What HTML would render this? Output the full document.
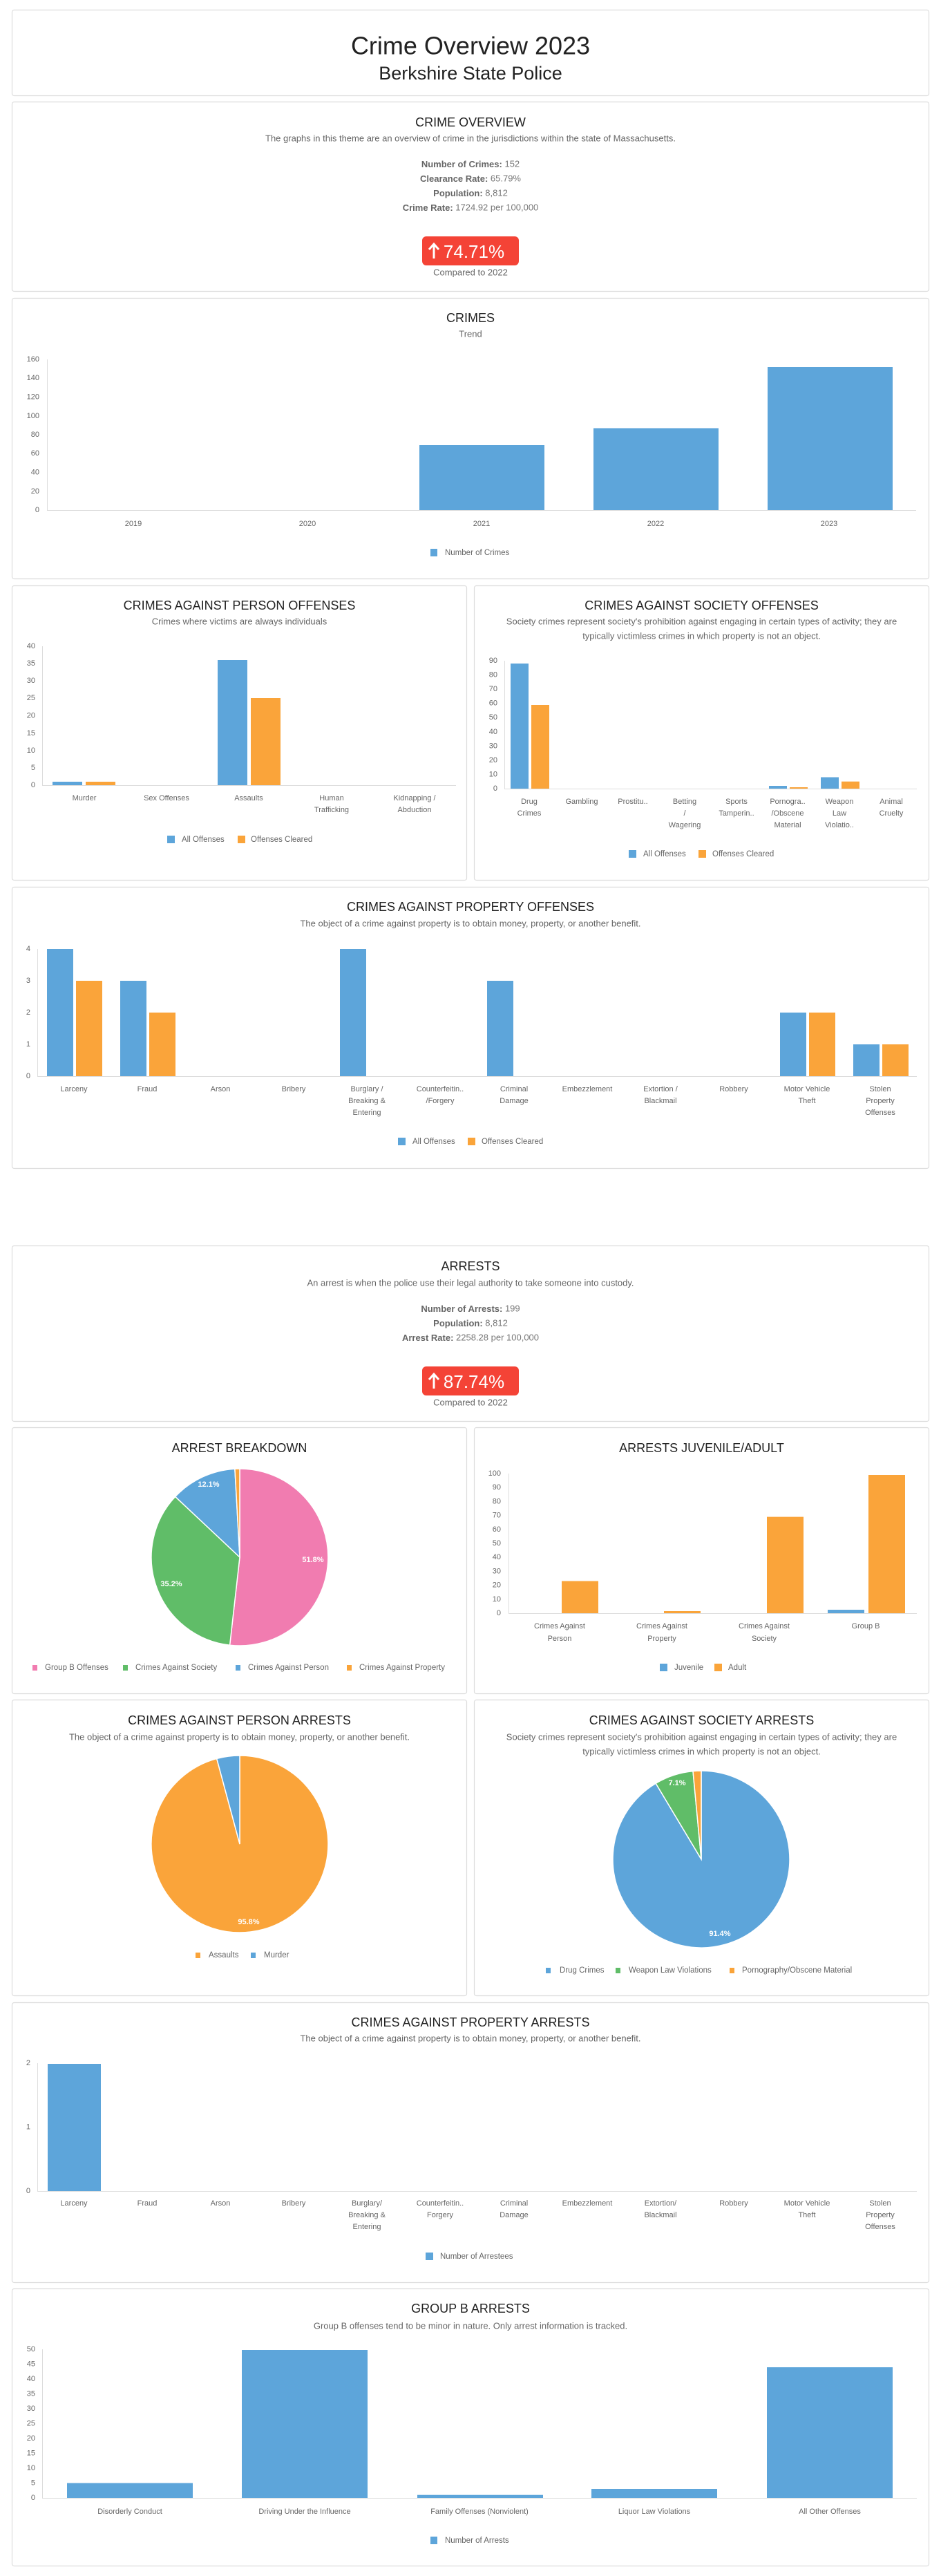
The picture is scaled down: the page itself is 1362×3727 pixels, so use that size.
<!DOCTYPE html>
<html><head><meta charset="utf-8"><style>
html,body{margin:0;padding:0;background:#fff;}
svg{display:block;font-family:"Liberation Sans",Arial,sans-serif;}
.card{fill:#fff;stroke:#dcdcdc;stroke-width:1.2;}
.t{fill:#222;font-size:18px;text-anchor:middle;dominant-baseline:central;}
.d{fill:#666;font-size:13px;text-anchor:middle;dominant-baseline:central;}
.s{fill:#777;font-size:13px;text-anchor:middle;dominant-baseline:central;}
.s tspan.b{font-weight:bold;fill:#666;}
.yl{fill:#666;font-size:11px;text-anchor:end;dominant-baseline:central;}
.xl{fill:#666;font-size:11px;text-anchor:middle;dominant-baseline:central;}
.lg{fill:#666;font-size:11.5px;dominant-baseline:central;}
.ax{stroke:#ddd;stroke-width:1;fill:none;}
.bl{fill:#5DA5DA;}
.or{fill:#FAA43A;}
.pk{fill:#F17CB0;}
.gr{fill:#60BD68;}
.pl{fill:#fff;font-size:11px;font-weight:bold;text-anchor:middle;dominant-baseline:central;}
</style></head><body>
<svg width="1362" height="3727" viewBox="0 0 1362 3727" xmlns="http://www.w3.org/2000/svg">
<!-- cards -->
<rect class="card" x="17.5" y="14.5" width="1327" height="124" rx="3"/>
<rect class="card" x="17.5" y="147.5" width="1327" height="274" rx="3"/>
<rect class="card" x="17.5" y="431.5" width="1327" height="406" rx="3"/>
<rect class="card" x="17.5" y="847.5" width="658" height="426" rx="3"/>
<rect class="card" x="686.5" y="847.5" width="658" height="426" rx="3"/>
<rect class="card" x="17.5" y="1283.5" width="1327" height="407" rx="3"/>
<rect class="card" x="17.5" y="1802.5" width="1327" height="254" rx="3"/>
<rect class="card" x="17.5" y="2065.5" width="658" height="385" rx="3"/>
<rect class="card" x="686.5" y="2065.5" width="658" height="385" rx="3"/>
<rect class="card" x="17.5" y="2459.5" width="658" height="428" rx="3"/>
<rect class="card" x="686.5" y="2459.5" width="658" height="428" rx="3"/>
<rect class="card" x="17.5" y="2897.5" width="1327" height="405" rx="3"/>
<rect class="card" x="17.5" y="3311.5" width="1327" height="401" rx="3"/>

<!-- header -->
<text x="681" y="66" text-anchor="middle" dominant-baseline="central" font-size="36" fill="#222">Crime Overview 2023</text>
<text x="681" y="106" text-anchor="middle" dominant-baseline="central" font-size="27" fill="#222">Berkshire State Police</text>

<!-- crime overview -->
<text class="t" x="681" y="177">CRIME OVERVIEW</text>
<text class="d" x="681" y="200">The graphs in this theme are an overview of crime in the jurisdictions within the state of Massachusetts.</text>
<text class="s" x="681" y="237"><tspan class="b">Number of Crimes:</tspan> 152</text>
<text class="s" x="681" y="258"><tspan class="b">Clearance Rate:</tspan> 65.79%</text>
<text class="s" x="681" y="279"><tspan class="b">Population:</tspan> 8,812</text>
<text class="s" x="681" y="300"><tspan class="b">Crime Rate:</tspan> 1724.92 per 100,000</text>
<rect x="611" y="342" width="140" height="42" rx="6" fill="#F44336"/>
<text x="686" y="364" text-anchor="middle" dominant-baseline="central" font-size="26" fill="#fff">74.71%</text>
<path d="M628 374 V354 M621 361 L628 353 L635 361" stroke="#fff" stroke-width="3" fill="none"/>
<text class="d" x="681" y="394">Compared to 2022</text>

<!-- CRIMES trend -->
<text class="t" x="681" y="460">CRIMES</text>
<text class="d" x="681" y="483">Trend</text>
<g>
<text class="yl" x="57" y="520">160</text><text class="yl" x="57" y="547">140</text><text class="yl" x="57" y="574.5">120</text><text class="yl" x="57" y="602">100</text><text class="yl" x="57" y="629">80</text><text class="yl" x="57" y="656">60</text><text class="yl" x="57" y="683.5">40</text><text class="yl" x="57" y="711">20</text><text class="yl" x="57" y="738">0</text>
<path class="ax" d="M68.5 520 V738.5 H1326"/>
<rect class="bl" x="607" y="644" width="181" height="94"/>
<rect class="bl" x="859" y="619.5" width="181" height="118.5"/>
<rect class="bl" x="1111" y="531" width="181" height="207"/>
<text class="xl" x="193" y="758">2019</text><text class="xl" x="445" y="758">2020</text><text class="xl" x="697" y="758">2021</text><text class="xl" x="949" y="758">2022</text><text class="xl" x="1200" y="758">2023</text>
<rect class="bl" x="623" y="794" width="10" height="11"/><text class="lg" x="644" y="800">Number of Crimes</text>
</g>

<!-- Person offenses -->
<text class="t" x="346.5" y="876">CRIMES AGAINST PERSON OFFENSES</text>
<text class="d" x="346.5" y="899">Crimes where victims are always individuals</text>
<g>
<text class="yl" x="51" y="935">40</text><text class="yl" x="51" y="960">35</text><text class="yl" x="51" y="985">30</text><text class="yl" x="51" y="1010">25</text><text class="yl" x="51" y="1035.5">20</text><text class="yl" x="51" y="1061">15</text><text class="yl" x="51" y="1086">10</text><text class="yl" x="51" y="1111">5</text><text class="yl" x="51" y="1136">0</text>
<path class="ax" d="M61.5 935 V1136.5 H660"/>
<rect class="bl" x="76" y="1131" width="43" height="5"/><rect class="or" x="124" y="1131" width="43" height="5"/>
<rect class="bl" x="315" y="955" width="43" height="181"/><rect class="or" x="363" y="1010" width="43" height="126"/>
<text class="xl" x="122" y="1155">Murder</text><text class="xl" x="241" y="1155">Sex Offenses</text><text class="xl" x="360" y="1155">Assaults</text>
<text class="xl" x="480" y="1155">Human</text><text class="xl" x="480" y="1172">Trafficking</text>
<text class="xl" x="600" y="1155">Kidnapping /</text><text class="xl" x="600" y="1172">Abduction</text>
<rect class="bl" x="242" y="1209" width="11" height="11"/><text class="lg" x="263" y="1215">All Offenses</text>
<rect class="or" x="344" y="1209" width="11" height="11"/><text class="lg" x="363" y="1215">Offenses Cleared</text>
</g>

<!-- Society offenses -->
<text class="t" x="1015.5" y="876">CRIMES AGAINST SOCIETY OFFENSES</text>
<text class="d" x="1015.5" y="899">Society crimes represent society's prohibition against engaging in certain types of activity; they are</text>
<text class="d" x="1015.5" y="920">typically victimless crimes in which property is not an object.</text>
<g>
<text class="yl" x="720" y="956">90</text><text class="yl" x="720" y="976.5">80</text><text class="yl" x="720" y="997">70</text><text class="yl" x="720" y="1017.5">60</text><text class="yl" x="720" y="1038">50</text><text class="yl" x="720" y="1059">40</text><text class="yl" x="720" y="1079.5">30</text><text class="yl" x="720" y="1100">20</text><text class="yl" x="720" y="1120.5">10</text><text class="yl" x="720" y="1141">0</text>
<path class="ax" d="M730.5 956 V1141.5 H1327"/>
<rect class="bl" x="739" y="960" width="26" height="181"/><rect class="or" x="769" y="1020" width="26" height="121"/>
<rect class="bl" x="1113" y="1137" width="26" height="4"/><rect class="or" x="1143" y="1139" width="26" height="2"/>
<rect class="bl" x="1188" y="1124.5" width="26" height="16.5"/><rect class="or" x="1218" y="1130.7" width="26" height="10.3"/>
<text class="xl" x="766" y="1160">Drug</text><text class="xl" x="766" y="1177">Crimes</text>
<text class="xl" x="842" y="1160">Gambling</text>
<text class="xl" x="916" y="1160">Prostitu..</text>
<text class="xl" x="991" y="1160">Betting</text><text class="xl" x="991" y="1177">/</text><text class="xl" x="991" y="1194">Wagering</text>
<text class="xl" x="1066" y="1160">Sports</text><text class="xl" x="1066" y="1177">Tamperin..</text>
<text class="xl" x="1140" y="1160">Pornogra..</text><text class="xl" x="1140" y="1177">/Obscene</text><text class="xl" x="1140" y="1194">Material</text>
<text class="xl" x="1215" y="1160">Weapon</text><text class="xl" x="1215" y="1177">Law</text><text class="xl" x="1215" y="1194">Violatio..</text>
<text class="xl" x="1290" y="1160">Animal</text><text class="xl" x="1290" y="1177">Cruelty</text>
<rect class="bl" x="910" y="1230" width="11" height="11"/><text class="lg" x="931" y="1236">All Offenses</text>
<rect class="or" x="1011" y="1230" width="11" height="11"/><text class="lg" x="1031" y="1236">Offenses Cleared</text>
</g>

<!-- Property offenses -->
<text class="t" x="681" y="1312">CRIMES AGAINST PROPERTY OFFENSES</text>
<text class="d" x="681" y="1336">The object of a crime against property is to obtain money, property, or another benefit.</text>
<g>
<text class="yl" x="44" y="1373">4</text><text class="yl" x="44" y="1419">3</text><text class="yl" x="44" y="1465">2</text><text class="yl" x="44" y="1511">1</text><text class="yl" x="44" y="1557">0</text>
<path class="ax" d="M54.5 1373 V1557.5 H1327"/>
<rect class="bl" x="68" y="1373" width="38" height="184"/><rect class="or" x="110" y="1419" width="38" height="138"/>
<rect class="bl" x="174" y="1419" width="38" height="138"/><rect class="or" x="216" y="1465" width="38" height="92"/>
<rect class="bl" x="492" y="1373" width="38" height="184"/>
<rect class="bl" x="705" y="1419" width="38" height="138"/>
<rect class="bl" x="1129" y="1465" width="38" height="92"/><rect class="or" x="1171" y="1465" width="38" height="92"/>
<rect class="bl" x="1235" y="1511" width="38" height="46"/><rect class="or" x="1277" y="1511" width="38" height="46"/>
<text class="xl" x="107" y="1576">Larceny</text>
<text class="xl" x="213" y="1576">Fraud</text>
<text class="xl" x="319" y="1576">Arson</text>
<text class="xl" x="425" y="1576">Bribery</text>
<text class="xl" x="531" y="1576">Burglary /</text><text class="xl" x="531" y="1593">Breaking &amp;</text><text class="xl" x="531" y="1610">Entering</text>
<text class="xl" x="637" y="1576">Counterfeitin..</text><text class="xl" x="637" y="1593">/Forgery</text>
<text class="xl" x="744" y="1576">Criminal</text><text class="xl" x="744" y="1593">Damage</text>
<text class="xl" x="850" y="1576">Embezzlement</text>
<text class="xl" x="956" y="1576">Extortion /</text><text class="xl" x="956" y="1593">Blackmail</text>
<text class="xl" x="1062" y="1576">Robbery</text>
<text class="xl" x="1168" y="1576">Motor Vehicle</text><text class="xl" x="1168" y="1593">Theft</text>
<text class="xl" x="1274" y="1576">Stolen</text><text class="xl" x="1274" y="1593">Property</text><text class="xl" x="1274" y="1610">Offenses</text>
<rect class="bl" x="576" y="1646" width="11" height="11"/><text class="lg" x="597" y="1652">All Offenses</text>
<rect class="or" x="677" y="1646" width="11" height="11"/><text class="lg" x="697" y="1652">Offenses Cleared</text>
</g>

<!-- Arrests -->
<text class="t" x="681" y="1832">ARRESTS</text>
<text class="d" x="681" y="1856">An arrest is when the police use their legal authority to take someone into custody.</text>
<text class="s" x="681" y="1893"><tspan class="b">Number of Arrests:</tspan> 199</text>
<text class="s" x="681" y="1914"><tspan class="b">Population:</tspan> 8,812</text>
<text class="s" x="681" y="1935"><tspan class="b">Arrest Rate:</tspan> 2258.28 per 100,000</text>
<rect x="611" y="1977" width="140" height="42" rx="6" fill="#F44336"/>
<text x="686" y="1999" text-anchor="middle" dominant-baseline="central" font-size="26" fill="#fff">87.74%</text>
<path d="M628 2009 V1989 M621 1996 L628 1988 L635 1996" stroke="#fff" stroke-width="3" fill="none"/>
<text class="d" x="681" y="2029">Compared to 2022</text>

<!-- Arrest breakdown -->
<text class="t" x="346.5" y="2095">ARREST BREAKDOWN</text>
<g stroke="#fff" stroke-width="1.5">
<path class="pk" d="M347 2253 L347 2125 A128 128 0 1 1 332.6 2380.2 Z"/>
<path class="gr" d="M347 2253 L332.6 2380.2 A128 128 0 0 1 253.7 2165.4 Z"/>
<path class="bl" d="M347 2253 L253.7 2165.4 A128 128 0 0 1 339.9 2125.2 Z"/>
<path class="or" d="M347 2253 L339.9 2125.2 A128 128 0 0 1 347 2125 Z"/>
</g>
<text class="pl" x="453" y="2257">51.8%</text><text class="pl" x="248" y="2292">35.2%</text><text class="pl" x="302" y="2148">12.1%</text>
<rect class="pk" x="47" y="2409" width="7" height="8"/><text class="lg" x="65" y="2413">Group B Offenses</text>
<rect class="gr" x="178" y="2409" width="7" height="8"/><text class="lg" x="196" y="2413">Crimes Against Society</text>
<rect class="bl" x="341" y="2409" width="7" height="8"/><text class="lg" x="359" y="2413">Crimes Against Person</text>
<rect class="or" x="502" y="2409" width="7" height="8"/><text class="lg" x="520" y="2413">Crimes Against Property</text>

<!-- Juvenile/Adult -->
<text class="t" x="1015.5" y="2095">ARRESTS JUVENILE/ADULT</text>
<g>
<text class="yl" x="725" y="2132">100</text><text class="yl" x="725" y="2152">90</text><text class="yl" x="725" y="2172.5">80</text><text class="yl" x="725" y="2192.5">70</text><text class="yl" x="725" y="2213">60</text><text class="yl" x="725" y="2233">50</text><text class="yl" x="725" y="2253">40</text><text class="yl" x="725" y="2273.5">30</text><text class="yl" x="725" y="2293.5">20</text><text class="yl" x="725" y="2314">10</text><text class="yl" x="725" y="2334">0</text>
<path class="ax" d="M736.5 2132 V2334.5 H1327"/>
<rect class="or" x="813" y="2287.5" width="53" height="46.5"/>
<rect class="or" x="961" y="2331" width="53" height="3"/>
<rect class="or" x="1110" y="2194.6" width="53" height="139.4"/>
<rect class="bl" x="1198" y="2329" width="53" height="5"/>
<rect class="or" x="1257" y="2134" width="53" height="200"/>
<text class="xl" x="810" y="2353">Crimes Against</text><text class="xl" x="810" y="2371">Person</text>
<text class="xl" x="958" y="2353">Crimes Against</text><text class="xl" x="958" y="2371">Property</text>
<text class="xl" x="1106" y="2353">Crimes Against</text><text class="xl" x="1106" y="2371">Society</text>
<text class="xl" x="1253" y="2353">Group B</text>
<rect class="bl" x="955" y="2407" width="11" height="11"/><text class="lg" x="976" y="2413">Juvenile</text>
<rect class="or" x="1034" y="2407" width="11" height="11"/><text class="lg" x="1054" y="2413">Adult</text>
</g>

<!-- Person arrests -->
<text class="t" x="346.5" y="2489">CRIMES AGAINST PERSON ARRESTS</text>
<text class="d" x="346.5" y="2513">The object of a crime against property is to obtain money, property, or another benefit.</text>
<g stroke="#fff" stroke-width="1.5">
<path class="or" d="M347 2668 L347 2540 A128 128 0 1 1 313.7 2544.4 Z"/>
<path class="bl" d="M347 2668 L313.7 2544.4 A128 128 0 0 1 347 2540 Z"/>
</g>
<text class="pl" x="360" y="2781">95.8%</text>
<rect class="or" x="283" y="2825" width="7" height="8"/><text class="lg" x="302" y="2829">Assaults</text>
<rect class="bl" x="363" y="2825" width="7" height="8"/><text class="lg" x="382" y="2829">Murder</text>

<!-- Society arrests -->
<text class="t" x="1015.5" y="2489">CRIMES AGAINST SOCIETY ARRESTS</text>
<text class="d" x="1015.5" y="2513">Society crimes represent society's prohibition against engaging in certain types of activity; they are</text>
<text class="d" x="1015.5" y="2534">typically victimless crimes in which property is not an object.</text>
<g stroke="#fff" stroke-width="1.5">
<path class="bl" d="M1015 2690 L1015 2562 A128 128 0 1 1 949.2 2580.2 Z"/>
<path class="gr" d="M1015 2690 L949.2 2580.2 A128 128 0 0 1 1003 2562.6 Z"/>
<path class="or" d="M1015 2690 L1003 2562.6 A128 128 0 0 1 1015 2562 Z"/>
</g>
<text class="pl" x="1042" y="2798">91.4%</text><text class="pl" x="980" y="2580">7.1%</text>
<rect class="bl" x="790" y="2847" width="7" height="8"/><text class="lg" x="810" y="2851">Drug Crimes</text>
<rect class="gr" x="891" y="2847" width="7" height="8"/><text class="lg" x="910" y="2851">Weapon Law Violations</text>
<rect class="or" x="1056" y="2847" width="7" height="8"/><text class="lg" x="1074" y="2851">Pornography/Obscene Material</text>

<!-- Property arrests -->
<text class="t" x="681" y="2926">CRIMES AGAINST PROPERTY ARRESTS</text>
<text class="d" x="681" y="2949">The object of a crime against property is to obtain money, property, or another benefit.</text>
<g>
<text class="yl" x="44" y="2985">2</text><text class="yl" x="44" y="3077.5">1</text><text class="yl" x="44" y="3170">0</text>
<path class="ax" d="M54.5 2985 V3170.5 H1327"/>
<rect class="bl" x="69" y="2986" width="77" height="184"/>
<text class="xl" x="107" y="3188">Larceny</text>
<text class="xl" x="213" y="3188">Fraud</text>
<text class="xl" x="319" y="3188">Arson</text>
<text class="xl" x="425" y="3188">Bribery</text>
<text class="xl" x="531" y="3188">Burglary/</text><text class="xl" x="531" y="3205">Breaking &amp;</text><text class="xl" x="531" y="3222">Entering</text>
<text class="xl" x="637" y="3188">Counterfeitin..</text><text class="xl" x="637" y="3205">Forgery</text>
<text class="xl" x="744" y="3188">Criminal</text><text class="xl" x="744" y="3205">Damage</text>
<text class="xl" x="850" y="3188">Embezzlement</text>
<text class="xl" x="956" y="3188">Extortion/</text><text class="xl" x="956" y="3205">Blackmail</text>
<text class="xl" x="1062" y="3188">Robbery</text>
<text class="xl" x="1168" y="3188">Motor Vehicle</text><text class="xl" x="1168" y="3205">Theft</text>
<text class="xl" x="1274" y="3188">Stolen</text><text class="xl" x="1274" y="3205">Property</text><text class="xl" x="1274" y="3222">Offenses</text>
<rect class="bl" x="616" y="3259" width="11" height="11"/><text class="lg" x="637" y="3265">Number of Arrestees</text>
</g>

<!-- Group B -->
<text class="t" x="681" y="3340">GROUP B ARRESTS</text>
<text class="d" x="681" y="3365">Group B offenses tend to be minor in nature. Only arrest information is tracked.</text>
<g>
<text class="yl" x="51" y="3399">50</text><text class="yl" x="51" y="3420.5">45</text><text class="yl" x="51" y="3442">40</text><text class="yl" x="51" y="3463.5">35</text><text class="yl" x="51" y="3485">30</text><text class="yl" x="51" y="3506.5">25</text><text class="yl" x="51" y="3528">20</text><text class="yl" x="51" y="3549.5">15</text><text class="yl" x="51" y="3571">10</text><text class="yl" x="51" y="3592.5">5</text><text class="yl" x="51" y="3614">0</text>
<path class="ax" d="M61.5 3399 V3614.5 H1327"/>
<rect class="bl" x="97" y="3592.5" width="182" height="21.5"/>
<rect class="bl" x="350" y="3400" width="182" height="214"/>
<rect class="bl" x="604" y="3609.7" width="182" height="4.3"/>
<rect class="bl" x="856" y="3601" width="182" height="13"/>
<rect class="bl" x="1110" y="3425" width="182" height="189"/>
<text class="xl" x="188" y="3634">Disorderly Conduct</text>
<text class="xl" x="441" y="3634">Driving Under the Influence</text>
<text class="xl" x="694" y="3634">Family Offenses (Nonviolent)</text>
<text class="xl" x="947" y="3634">Liquor Law Violations</text>
<text class="xl" x="1201" y="3634">All Other Offenses</text>
<rect class="bl" x="623" y="3670" width="10" height="11"/><text class="lg" x="644" y="3676">Number of Arrests</text>
</g>
</svg>
</body></html>
